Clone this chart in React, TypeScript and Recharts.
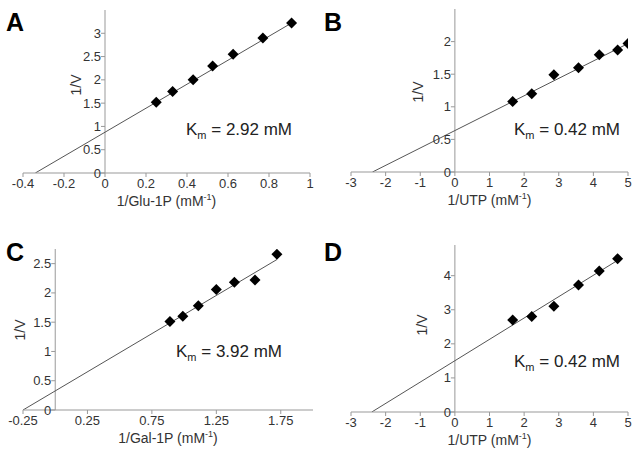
import React from "react";
import { ComposedChart, Scatter, Line, XAxis, YAxis, ReferenceLine } from "recharts";

const aX = [0.25, 0.33, 0.43, 0.525, 0.625, 0.77, 0.91];
const aY = [1.52, 1.75, 2.0, 2.3, 2.55, 2.9, 3.22];
const aFit = [[-0.34, 0], [0.91, 3.22]];

const bX = [1.67, 2.22, 2.86, 3.57, 4.17, 4.7, 5.0];
const bY = [1.08, 1.2, 1.49, 1.6, 1.8, 1.87, 1.97];
const bFit = [[-2.38, 0], [5.0, 1.97]];

const cX = [0.89, 0.99, 1.11, 1.25, 1.39, 1.55, 1.72];
const cY = [1.51, 1.6, 1.78, 2.06, 2.18, 2.22, 2.66];
const cFit = [[-0.25, 0], [1.72, 2.57]];

const dX = [1.67, 2.22, 2.86, 3.57, 4.17, 4.7];
const dY = [2.7, 2.8, 3.1, 3.73, 4.14, 4.5];
const dFit = [[-2.4, 0], [4.7, 4.45]];

const aXTicks = [-0.4, -0.2, 0, 0.2, 0.4, 0.6, 0.8, 1];
const aYTicks = [0, 0.5, 1, 1.5, 2, 2.5, 3];
const bXTicks = [-3, -2, -1, 0, 1, 2, 3, 4, 5];
const bYTicks = [0, 0.5, 1, 1.5, 2];
const cXTicks = [-0.25, 0.25, 0.75, 1.25, 1.75];
const cYTicks = [0, 0.5, 1, 1.5, 2, 2.5];
const dYTicks = [0, 1, 2, 3, 4];

const FONT = "'Liberation Sans', Arial, sans-serif";
const W = 317;
const H = 225;
const XH = 30;
const YW = 10;

type PanelProps = {
  left: number; top: number; letter: string;
  xs: number[]; ys: number[]; fit: number[][];
  xDomain: [number, number]; yDomain: [number, number];
  xTicks: number[]; yTicks: number[];
  plot: { l: number; r: number; t: number; b: number };
  xTitle: string; km: string;
  yTitlePos: [number, number]; kmPos: [number, number];
};

const Diamond = (s: any) => {
  const r = 5.5;
  const { cx, cy } = s;
  return <polygon points={`${cx},${cy - r} ${cx + r},${cy} ${cx},${cy + r} ${cx - r},${cy}`} fill="#000" />;
};

function Panel(p: PanelProps) {
  const pts = p.xs.map((x, i) => ({ x, y: p.ys[i] }));
  const fitData = p.fit.map(([x, y]) => ({ x, y }));
  const plotW = p.plot.r - p.plot.l;
  const zeroX = p.plot.l + ((0 - p.xDomain[0]) / (p.xDomain[1] - p.xDomain[0])) * plotW;
  const yTick = (t: any) => (
    <g>
      <line x1={zeroX - 4} x2={zeroX} y1={t.y} y2={t.y} stroke="#999" />
      <text x={zeroX - 4} y={t.y + 4.5} textAnchor="end" fontSize={13} fill="#333" fontFamily={FONT}>
        {t.payload.value}
      </text>
    </g>
  );
  return (
    <div style={{ position: "absolute", left: p.left, top: p.top, width: W, height: H, fontFamily: FONT }}>
      <ComposedChart
        width={W}
        height={H}
        margin={{ left: p.plot.l - YW, right: W - p.plot.r, top: p.plot.t, bottom: H - p.plot.b - XH }}
      >
        <XAxis
          type="number"
          dataKey="x"
          domain={p.xDomain}
          ticks={p.xTicks}
          height={XH}
          allowDataOverflow
          stroke="#999"
          tickSize={4}
          tick={{ fontSize: 13, fill: "#333", fontFamily: FONT }}
          tickFormatter={(v: number) => String(v)}
        />
        <YAxis
          type="number"
          dataKey="y"
          domain={p.yDomain}
          ticks={p.yTicks}
          width={YW}
          allowDataOverflow
          axisLine={false}
          tickLine={false}
          tick={yTick}
        />
        <ReferenceLine x={0} stroke="#999" />
        <Line data={fitData} dataKey="y" stroke="#555" strokeWidth={1} dot={false} isAnimationActive={false} />
        <Scatter data={pts} dataKey="y" shape={Diamond} fill="#000" legendType="none" isAnimationActive={false} />
      </ComposedChart>
      <div style={{ position: "absolute", left: 6, top: 8, fontSize: 25, fontWeight: "bold" }}>{p.letter}</div>
      <div
        style={{
          position: "absolute", left: p.yTitlePos[0], top: p.yTitlePos[1], fontSize: 14, color: "#333",
          transform: "translate(-50%, -50%) rotate(-90deg)",
        }}
      >
        1/V
      </div>
      <div
        style={{
          position: "absolute", left: (p.plot.l + p.plot.r) / 2, top: p.plot.b + 19, fontSize: 14, color: "#333",
          transform: "translateX(-50%)", whiteSpace: "nowrap",
        }}
      >
        {p.xTitle} (mM<sup style={{ fontSize: 9 }}>-1</sup>)
      </div>
      <div style={{ position: "absolute", left: p.kmPos[0], top: p.kmPos[1], fontSize: 17, color: "#222", whiteSpace: "nowrap" }}>
        K<sub style={{ fontSize: 11 }}>m</sub> = {p.km}
      </div>
    </div>
  );
}

export default function App() {
  return (
    <div style={{ position: "fixed", left: 0, top: 0, width: 635, height: 449, background: "#fff" }}>
      <Panel left={0} top={0} letter="A" xs={aX} ys={aY} fit={aFit}
        xDomain={[-0.4, 1]} yDomain={[0, 3.5]} xTicks={aXTicks} yTicks={aYTicks}
        plot={{ l: 23, r: 310, t: 10, b: 173 }} xTitle="1/Glu-1P" km="2.92 mM"
        yTitlePos={[76, 85]} kmPos={[186, 120]} />
      <Panel left={318} top={0} letter="B" xs={bX} ys={bY} fit={bFit}
        xDomain={[-3, 5]} yDomain={[0, 2.5]} xTicks={bXTicks} yTicks={bYTicks}
        plot={{ l: 33, r: 310, t: 9, b: 172 }} xTitle="1/UTP" km="0.42 mM"
        yTitlePos={[100, 92]} kmPos={[196, 120]} />
      <Panel left={0} top={230} letter="C" xs={cX} ys={cY} fit={cFit}
        xDomain={[-0.25, 2]} yDomain={[0, 2.75]} xTicks={cXTicks} yTicks={cYTicks}
        plot={{ l: 23, r: 313, t: 19, b: 180 }} xTitle="1/Gal-1P" km="3.92 mM"
        yTitlePos={[20, 100]} kmPos={[176, 112]} />
      <Panel left={318} top={230} letter="D" xs={dX} ys={dY} fit={dFit}
        xDomain={[-3, 5]} yDomain={[0, 4.9]} xTicks={bXTicks} yTicks={dYTicks}
        plot={{ l: 33, r: 310, t: 15, b: 182 }} xTitle="1/UTP" km="0.42 mM"
        yTitlePos={[104, 95]} kmPos={[196, 122]} />
    </div>
  );
}
